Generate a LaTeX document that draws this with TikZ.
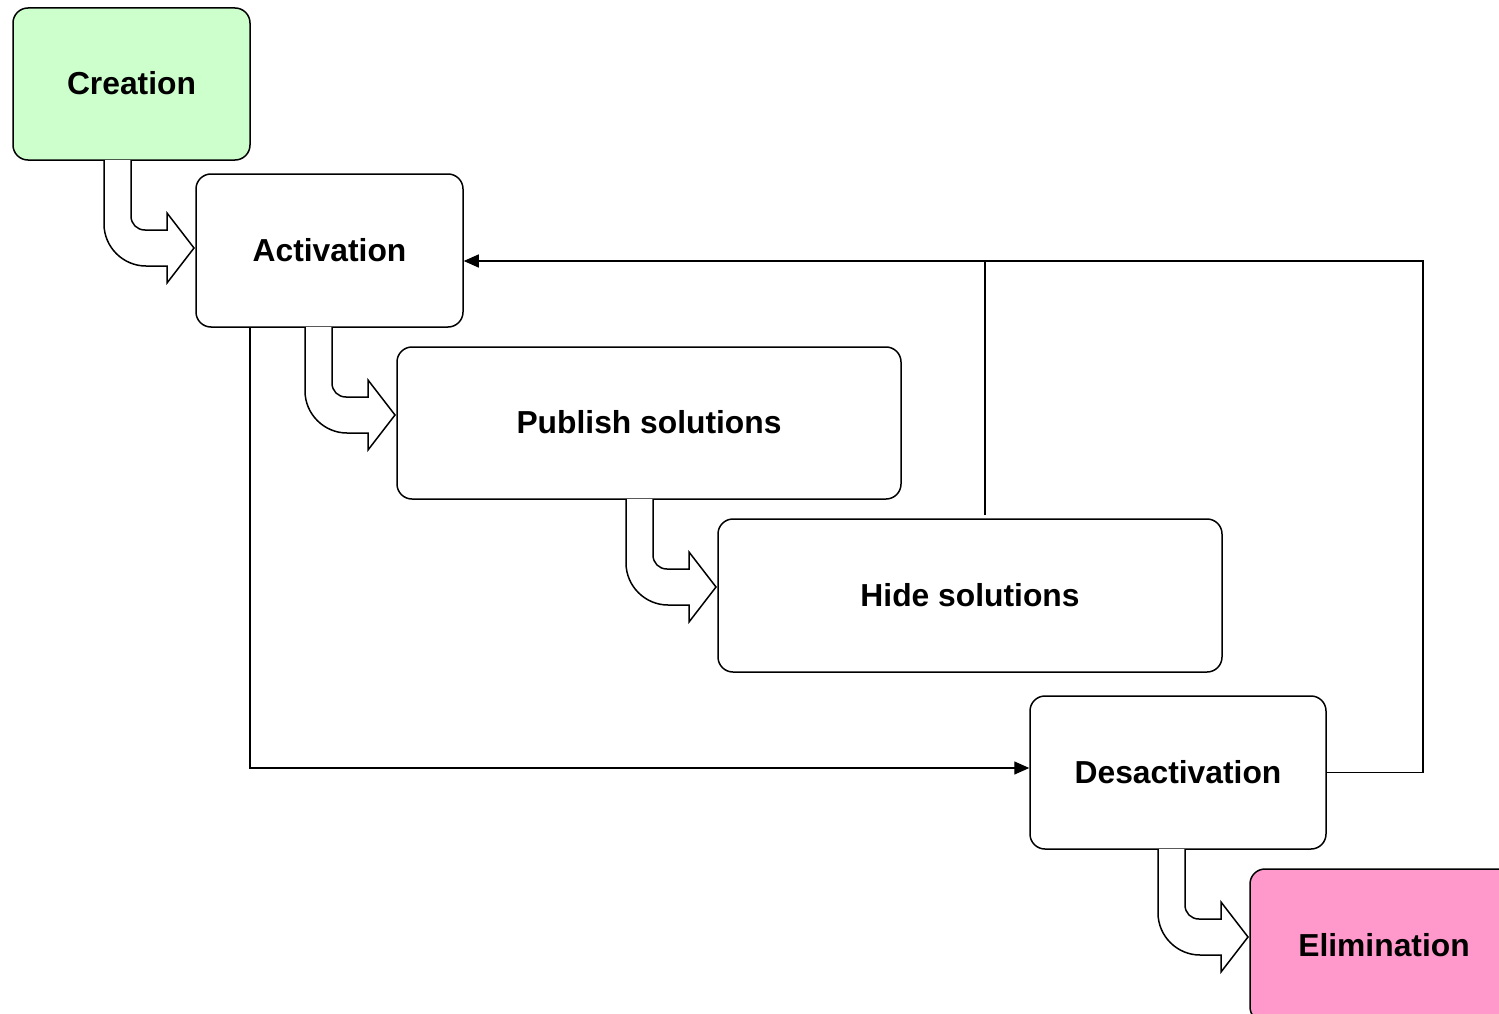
\documentclass[tikz,border=0pt]{standalone}
\usepackage{fontspec}
\setmainfont{Liberation Sans}
\usetikzlibrary{arrows.meta}
\definecolor{creagreen}{HTML}{CCFFCC}
\definecolor{elimpink}{HTML}{FF99CC}
\tikzset{
  stagebox/.style={draw=black, line width=1.5pt, rounded corners=15pt, fill=white,
    inner sep=0pt, font=\fontsize{31.8}{38}\selectfont\bfseries},
  conn/.style={draw=black, line width=1.4pt},
  connarrow/.style={conn, -{Triangle[length=15pt,width=13pt]}},
  blockarrow/.style={draw=black, line width=1.5pt, fill=white, line join=miter}
}
\newcommand\bentblockarrow[2]{%
  \draw[blockarrow]
    (#1,#2) -- ({#1},{#2+106-42})
    .. controls ({#1},{#2+106-42+23}) and ({#1+42-23},{#2+106}) .. ({#1+42},{#2+106})
    -- ({#1+63},{#2+106}) -- ({#1+63},{#2+88+35}) -- ({#1+90},{#2+88})
    -- ({#1+63},{#2+88-35}) -- ({#1+63},{#2+70}) -- ({#1+27+14},{#2+70})
    .. controls ({#1+27+6},{#2+70}) and ({#1+27},{#2+70-6}) .. ({#1+27},{#2+70-14})
    -- ({#1+27},{#2});}
\newcommand\stagetext[1]{\raisebox{2pt}{#1}}
\begin{document}
\begin{tikzpicture}[x=1pt,y=-1pt]
\useasboundingbox (0,0) rectangle (1499,1014);
\clip (0,0) rectangle (1499,1014);
\node[stagebox, fill=creagreen, minimum width=237pt, minimum height=152pt] (creation) at (131.5,84) {\stagetext{Creation}};
\node[stagebox, minimum width=267pt, minimum height=153pt] (activation) at (329.5,250.5) {\stagetext{Activation}};
\node[stagebox, minimum width=504pt, minimum height=152pt] (publish) at (649,423) {\stagetext{Publish solutions}};
\node[stagebox, minimum width=504pt, minimum height=153pt] (hide) at (970,595.5) {\stagetext{Hide solutions}};
\node[stagebox, minimum width=296pt, minimum height=153pt] (desact) at (1178,772.5) {\stagetext{Desactivation}};
\node[stagebox, fill=elimpink, minimum width=268pt, minimum height=153pt] (elim) at (1384,945.5) {\stagetext{Elimination}};
% block arrows
\bentblockarrow{104}{160}
\bentblockarrow{305}{327}
\bentblockarrow{626}{499}
\bentblockarrow{1158}{849}
% connectors
\coordinate (fbR) at (1423,261);
\draw[connarrow] (desact.east) -| (fbR) -- (activation.east |- fbR);
\coordinate (hideTop) at (985,515);
\draw[conn] (hideTop) -- (hideTop |- fbR);
\coordinate (actOut) at (250,327);
\draw[connarrow] (actOut) |- ([yshift=4.5pt]desact.west);
\end{tikzpicture}
\end{document}
